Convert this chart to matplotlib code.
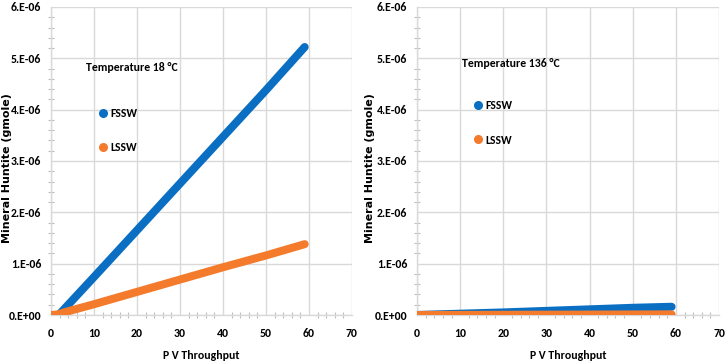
import matplotlib
matplotlib.use("Agg")
import matplotlib.pyplot as plt
from matplotlib.lines import Line2D
from matplotlib.ticker import MultipleLocator, FixedLocator, FixedFormatter

TXT = ["Carlito", "Liberation Sans", "DejaVu Sans"]
YLAB = ["DejaVu Sans"]

# ---- data (y in gmole) ----
left_fssw_x = [0, 1, 1.8, 10, 20, 30, 40, 50, 59]
left_fssw_y = [0, 0, 0.0, 0.74e-6, 1.65e-6, 2.56e-6, 3.47e-6, 4.38e-6, 5.22e-6]
left_lssw_x = [0, 1, 2, 3, 10, 20, 30, 40, 50, 59]
left_lssw_y = [0, 0.005e-6, 0.02e-6, 0.05e-6, 0.21e-6, 0.45e-6, 0.69e-6, 0.93e-6, 1.16e-6, 1.38e-6]

right_fssw_x = [0, 10, 20, 30, 40, 50, 59]
right_fssw_y = [0, 0.025e-6, 0.05e-6, 0.08e-6, 0.11e-6, 0.14e-6, 0.16e-6]
right_lssw_x = [0, 10, 20, 30, 40, 50, 59]
right_lssw_y = [0, 0.002e-6, 0.004e-6, 0.006e-6, 0.008e-6, 0.01e-6, 0.012e-6]

panel_titles = ["Temperature 18 \u00b0C", "Temperature 136 \u00b0C"]
series_names = ["FSSW", "LSSW"]
x_ticks = [0, 10, 20, 30, 40, 50, 60, 70]
y_ticks = [0, 1e-6, 2e-6, 3e-6, 4e-6, 5e-6, 6e-6]
y_tick_labels = ["0.E+00", "1.E-06", "2.E-06", "3.E-06", "4.E-06", "5.E-06", "6.E-06"]
x_label = "P V Throughput"
y_label = "Mineral Huntite (gmole)"

BLUE = "#0a6fc2"
ORANGE = "#f47b2c"
GRID = "#d9d9d9"

fig = plt.figure(figsize=(7.26, 3.64), dpi=100)
ax1 = fig.add_axes([0.0702, 0.1346, 0.4146, 0.8462])
ax2 = fig.add_axes([0.5744, 0.1346, 0.4160, 0.8462])

panels = [
    (ax1, left_fssw_x, left_fssw_y, left_lssw_x, left_lssw_y, panel_titles[0],
     (0.115, 0.805), (0.162, 0.673), -0.13),
    (ax2, right_fssw_x, right_fssw_y, right_lssw_x, right_lssw_y, panel_titles[1],
     (0.148, 0.818), (0.190, 0.698), -0.139),
]

for ax, fx, fy, lx, ly, title, tpos, lpos, ylx in panels:
    ax.plot(fx, fy, color=BLUE, lw=5.8, solid_capstyle="round", solid_joinstyle="round", zorder=3)
    ax.plot(lx, ly, color=ORANGE, lw=5.8, solid_capstyle="round", solid_joinstyle="round", zorder=4)
    ax.set_xlim(0, 70)
    ax.set_ylim(0, 6e-6)
    ax.xaxis.set_major_locator(FixedLocator(x_ticks))
    ax.yaxis.set_major_locator(FixedLocator(y_ticks))
    ax.yaxis.set_major_formatter(FixedFormatter(y_tick_labels))
    ax.xaxis.set_minor_locator(MultipleLocator(2))
    ax.yaxis.set_minor_locator(MultipleLocator(0.2e-6))
    ax.grid(True, which="major", color=GRID, lw=1.0, zorder=0)
    ax.set_axisbelow(True)
    for s in ["top", "right"]:
        ax.spines[s].set_visible(False)
    for s in ["left", "bottom"]:
        ax.spines[s].set_color(GRID)
        ax.spines[s].set_linewidth(1.0)
    ax.tick_params(which="major", length=0, pad=7)
    ax.tick_params(axis="x", which="major", pad=9)
    ax.tick_params(which="minor", length=4, direction="inout", color="#bfbfbf", width=0.8)
    for lab in ax.get_xticklabels() + ax.get_yticklabels():
        lab.set_fontfamily(TXT)
        lab.set_fontweight("bold")
        lab.set_fontsize(8.5)
    ax.set_xlabel(x_label, fontfamily=TXT, fontweight="bold", fontsize=8.5, labelpad=8)
    ax.set_ylabel(y_label, fontfamily=YLAB, fontweight="bold", fontsize=8)
    ax.yaxis.set_label_coords(ylx, 0.477)
    ax.text(tpos[0], tpos[1], title, transform=ax.transAxes, fontfamily=TXT,
            fontweight="bold", fontsize=8.5, va="center", ha="left")
    handles = [Line2D([], [], ls="none", marker="o", ms=5.5, color=BLUE),
               Line2D([], [], ls="none", marker="o", ms=5.5, color=ORANGE)]
    ax.legend(handles, series_names, loc="upper left", bbox_to_anchor=(lpos[0], lpos[1]),
              frameon=False, handlelength=0.6, handletextpad=0.3, labelspacing=2.0,
              borderaxespad=0, borderpad=0,
              prop={"family": TXT, "weight": "bold", "size": 8.5})

fig.savefig("out.png", dpi=100)
